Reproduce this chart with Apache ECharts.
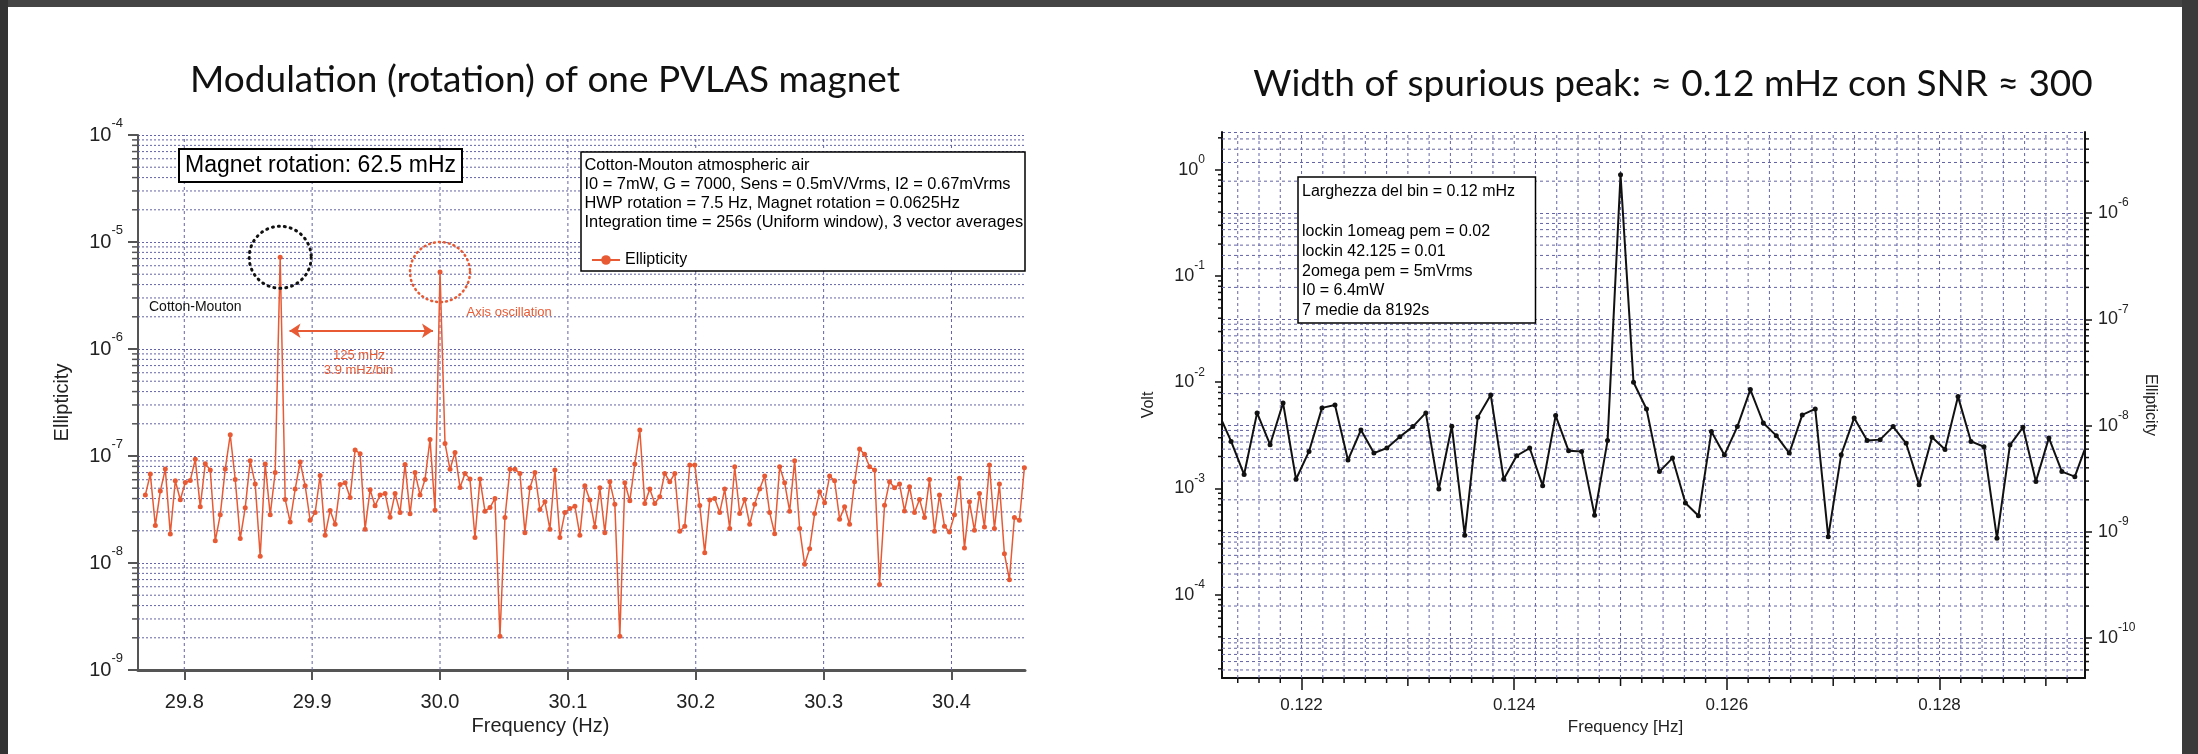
<!DOCTYPE html>
<html>
<head>
<meta charset="utf-8">
<script src="https://cdn.jsdelivr.net/npm/echarts@6/dist/echarts.min.js"></script>
<style>
html,body{margin:0;padding:0;background:#fff;}
#chart{width:2198px;height:754px;}
</style>
</head>
<body>
<div id="chart"></div>
<script>
// ---------------- DATA ----------------
const LEFT_TITLE = 'Modulation (rotation) of one PVLAS magnet';
const RIGHT_TITLE = 'Width of spurious peak: \u2248 0.12 mHz con SNR \u2248 300';

// Left panel: FFT bins, 3.9 mHz/bin (1/256 s), first bin at 29.7695 Hz
const LEFT_F0 = 29.76953125;
const LEFT_DF = 0.00390625;
const LEFT_ELLIPTICITY = [
  4.31e-8, 6.78e-8, 2.24e-8, 4.70e-8, 7.55e-8, 1.87e-8, 5.87e-8, 3.90e-8, 5.66e-8, 5.91e-8,
  9.31e-8, 3.35e-8, 8.48e-8, 7.39e-8, 1.61e-8, 2.82e-8, 7.55e-8, 1.58e-7, 6.04e-8, 1.69e-8,
  3.28e-8, 9.04e-8, 5.46e-8, 1.155e-8, 8.41e-8, 2.82e-8, 7.03e-8, 7.2e-6, 3.93e-8, 2.42e-8,
  4.91e-8, 8.79e-8, 5.27e-8, 2.51e-8, 2.96e-8, 6.59e-8, 1.82e-8, 3.10e-8, 2.30e-8, 5.42e-8,
  5.62e-8, 4.10e-8, 1.14e-7, 1.05e-7, 2.07e-8, 4.83e-8, 3.42e-8, 4.31e-8, 4.47e-8, 2.68e-8,
  4.47e-8, 2.96e-8, 8.35e-8, 2.88e-8, 7.03e-8, 4.31e-8, 6.04e-8, 1.43e-7, 3.12e-8, 5.24e-6,
  1.31e-7, 7.50e-8, 1.08e-7, 5.08e-8, 6.88e-8, 6.08e-8, 1.73e-8, 6.08e-8, 3.05e-8, 3.30e-8,
  4.01e-8, 2.07e-9, 2.66e-8, 7.50e-8, 7.50e-8, 6.88e-8, 1.92e-8, 5.05e-8, 7.03e-8, 3.16e-8,
  3.73e-8, 2.07e-8, 7.39e-8, 1.73e-8, 2.96e-8, 3.23e-8, 3.40e-8, 1.82e-8, 5.27e-8, 3.87e-8,
  2.17e-8, 5.05e-8, 1.92e-8, 5.74e-8, 3.55e-8, 2.07e-9, 5.62e-8, 3.81e-8, 8.41e-8, 1.75e-7,
  3.60e-8, 4.91e-8, 3.60e-8, 4.16e-8, 6.88e-8, 5.74e-8, 6.88e-8, 1.98e-8, 2.21e-8, 8.24e-8,
  8.24e-8, 3.45e-8, 1.25e-8, 3.87e-8, 4.01e-8, 2.96e-8, 4.91e-8, 2.10e-8, 7.94e-8, 2.90e-8,
  3.93e-8, 2.30e-8, 3.55e-8, 4.91e-8, 6.49e-8, 2.96e-8, 1.88e-8, 7.94e-8, 5.62e-8, 3.05e-8,
  9.04e-8, 2.10e-8, 9.72e-9, 1.36e-8, 2.90e-8, 4.64e-8, 3.65e-8, 6.49e-8, 5.87e-8, 2.57e-8,
  3.35e-8, 2.30e-8, 5.74e-8, 1.16e-7, 1.04e-7, 7.94e-8, 7.39e-8, 6.31e-9, 3.47e-8, 5.74e-8,
  5.05e-8, 5.46e-8, 3.07e-8, 5.16e-8, 2.96e-8, 3.93e-8, 2.66e-8, 6.04e-8, 1.98e-8, 4.31e-8,
  2.21e-8, 1.95e-8, 2.82e-8, 6.18e-8, 1.38e-8, 3.73e-8, 2.02e-8, 4.47e-8, 2.17e-8, 8.24e-8,
  2.10e-8, 5.46e-8, 1.22e-8, 6.98e-9, 2.66e-8, 2.51e-8, 7.78e-8
];
const LEFT_XTICKS = [29.8, 29.9, 30.0, 30.1, 30.2, 30.3, 30.4];
const LEFT_XMIN = 29.7638, LEFT_XMAX = 30.4575;
const LEFT_YMIN = 1e-9, LEFT_YMAX = 1e-4;

// Right panel: bins of 1/8192 Hz around 0.125 Hz
const RIGHT_F0 = 0.125 - 31 / 8192;
const RIGHT_DF = 1 / 8192;
const RIGHT_VOLT = [
  5.2e-3, 2.77e-3, 1.35e-3, 5.14e-3, 2.58e-3, 6.38e-3, 1.22e-3, 2.23e-3, 5.73e-3, 6.11e-3,
  1.85e-3, 3.55e-3, 2.15e-3, 2.40e-3, 3.07e-3, 3.82e-3, 5.14e-3, 9.86e-4, 3.85e-3, 3.63e-4,
  4.68e-3, 7.59e-3, 1.22e-3, 2.03e-3, 2.40e-3, 1.06e-3, 4.85e-3, 2.26e-3, 2.23e-3, 5.60e-4,
  2.82e-3, 0.9, 1.0e-2, 5.60e-3, 1.44e-3, 1.93e-3, 7.28e-4, 5.52e-4, 3.43e-3, 2.06e-3,
  3.82e-3, 8.53e-3, 4.13e-3, 3.14e-3, 2.15e-3, 4.92e-3, 5.60e-3, 3.50e-4, 2.08e-3, 4.61e-3,
  2.82e-3, 2.88e-3, 3.82e-3, 2.66e-3, 1.08e-3, 3.03e-3, 2.32e-3, 7.32e-3, 2.77e-3, 2.47e-3,
  3.40e-4, 2.56e-3, 3.76e-3, 1.16e-3, 2.99e-3, 1.44e-3, 1.29e-3, 2.8e-3
];
const RIGHT_XTICKS = [0.122, 0.124, 0.126, 0.128];
const RIGHT_XMIN = 0.121252, RIGHT_XMAX = 0.129368;
const VOLT_MIN = 1.64e-5, VOLT_MAX = 2.27;
const ELL_MIN = 4.2e-11, ELL_MAX = 5.81e-6;

const LEFT_BOX_LINES = [
  'Cotton-Mouton atmospheric air',
  'I0 = 7mW, G = 7000, Sens = 0.5mV/Vrms, I2 = 0.67mVrms',
  'HWP rotation = 7.5 Hz, Magnet rotation = 0.0625Hz',
  'Integration time = 256s (Uniform window), 3 vector averages'
];
const RIGHT_BOX_LINES = [
  'Larghezza del bin = 0.12 mHz',
  '',
  'lockin 1omeag pem = 0.02',
  'lockin 42.125 = 0.01',
  '2omega pem = 5mVrms',
  'I0 = 6.4mW',
  '7 medie da 8192s'
];

// ---------------- STYLE / HELPERS ----------------
const FONT = '"Liberation Sans", Arial, Helvetica, sans-serif';
const RED = '#e85a34';
const GRIDC = '#6464a6';

function minorValues(lo, hi) {
  const out = [];
  for (let d = -12; d <= 1; d++) {
    for (let m = 2; m <= 9; m++) {
      const v = Number((m * Math.pow(10, d)).toPrecision(3));
      if (v > lo && v < hi) out.push(v);
    }
  }
  return out;
}
function stepValues(start, stop, step, dec) {
  const out = [];
  for (let v = start; v <= stop + step / 2; v += step) out.push(Number(v.toFixed(dec)));
  return out;
}
function powLabel(v) {
  const e = Math.round(Math.log10(v));
  return '{b|10}{s|' + e + '}';
}
function powRich(base, sup, lh) {
  return {
    b: { fontSize: base, lineHeight: lh, fontFamily: FONT, color: '#222' },
    s: { fontSize: sup, lineHeight: sup, verticalAlign: 'top', fontFamily: FONT, color: '#222' }
  };
}
// horizontal minor grid lines / ticks on a log axis
function hMinor(xi, yi, xmin, xmax, vals, opt) {
  return {
    type: 'custom', xAxisIndex: xi, yAxisIndex: yi, silent: true, z: 1, clip: false,
    data: vals.map(v => [xmin, v]),
    renderItem: function (params, api) {
      const y = api.value(1);
      const a = api.coord([xmin, y]);
      const b = api.coord([xmax, y]);
      const ch = [];
      if (opt.grid) ch.push({ type: 'line', shape: { x1: a[0], y1: a[1], x2: b[0], y2: b[1] },
        style: { stroke: GRIDC, lineWidth: 1, lineDash: opt.dash } });
      if (opt.tick === 'left') ch.push({ type: 'line', shape: { x1: a[0] - opt.len, y1: a[1], x2: a[0], y2: a[1] },
        style: { stroke: opt.tickColor, lineWidth: 1.5 } });
      if (opt.tick === 'right') ch.push({ type: 'line', shape: { x1: b[0], y1: b[1], x2: b[0] + opt.len, y2: b[1] },
        style: { stroke: opt.tickColor, lineWidth: 1.5 } });
      return { type: 'group', children: ch };
    }
  };
}
// vertical grid lines (+ optional bottom ticks)
function vGrid(xi, yi, ymin, ymax, vals, opt) {
  return {
    type: 'custom', xAxisIndex: xi, yAxisIndex: yi, silent: true, z: 1, clip: false,
    data: vals.map(v => [v, ymin]),
    renderItem: function (params, api) {
      const x = api.value(0);
      const a = api.coord([x, ymin]);
      const b = api.coord([x, ymax]);
      const ch = [{ type: 'line', shape: { x1: a[0], y1: a[1], x2: b[0], y2: b[1] },
        style: { stroke: GRIDC, lineWidth: 1, lineDash: opt.dash } }];
      if (opt.tickLen) {
        const len = opt.tickLen(x);
        ch.push({ type: 'line', shape: { x1: a[0], y1: a[1], x2: a[0], y2: a[1] + len },
          style: { stroke: '#111', lineWidth: 1.5 } });
      }
      return { type: 'group', children: ch };
    }
  };
}

const leftData = LEFT_ELLIPTICITY.map((v, i) => [LEFT_F0 + i * LEFT_DF, v]);
const rightData = RIGHT_VOLT.map((v, i) => [RIGHT_F0 + i * RIGHT_DF, v]);
const rightVGridVals = stepValues(0.1214, 0.1292, 0.0002, 4);

const chart = echarts.init(document.getElementById('chart'), null, { renderer: 'canvas' });

const option = {
  animation: false,
  backgroundColor: '#ffffff',
  legend: {
    data: ['Ellipticity'], left: 586, top: 247, z: 10,
    itemWidth: 28, itemHeight: 12,
    textStyle: { fontSize: 16, fontFamily: FONT, color: '#000' }
  },
  grid: [
    { left: 138, top: 135, width: 887, height: 535 },
    { left: 1222, top: 132, width: 863, height: 546 }
  ],
  xAxis: [
    {
      gridIndex: 0, type: 'value', min: LEFT_XMIN, max: LEFT_XMAX,
      axisLine: { onZero: false, lineStyle: { color: '#555', width: 3 } },
      axisTick: { customValues: LEFT_XTICKS, length: 10, lineStyle: { color: '#555', width: 2 } },
      axisLabel: { customValues: LEFT_XTICKS, formatter: v => Number(v).toFixed(1),
        fontSize: 20, fontFamily: FONT, color: '#222', margin: 22 },
      splitLine: { show: false },
      name: 'Frequency (Hz)', nameLocation: 'middle', nameGap: 44,
      nameTextStyle: { fontSize: 20, fontFamily: FONT, color: '#222', padding: [0, 82, 0, 0] }
    },
    {
      gridIndex: 1, type: 'value', min: RIGHT_XMIN, max: RIGHT_XMAX,
      axisLine: { onZero: false, lineStyle: { color: '#111', width: 2 } },
      axisTick: { customValues: RIGHT_XTICKS, length: 12, lineStyle: { color: '#111', width: 1.5 } },
      axisLabel: { customValues: RIGHT_XTICKS, formatter: v => Number(v).toFixed(3),
        fontSize: 17, fontFamily: FONT, color: '#222', margin: 19 },
      splitLine: { show: false },
      name: 'Frequency [Hz]', nameLocation: 'middle', nameGap: 35,
      nameTextStyle: { fontSize: 17, fontFamily: FONT, color: '#222', padding: [0, 56, 0, 0] }
    }
  ],
  yAxis: [
    {
      gridIndex: 0, type: 'log', logBase: 10, min: LEFT_YMIN, max: LEFT_YMAX,
      axisLine: { show: true, lineStyle: { color: '#555', width: 2 } },
      axisTick: { show: true, length: 10, lineStyle: { color: '#555', width: 2 } },
      axisLabel: { formatter: powLabel, rich: powRich(20, 13, 36), margin: 15 },
      splitLine: { show: true, lineStyle: { color: GRIDC, type: [2, 2], width: 1 } },
      name: 'Ellipticity', nameLocation: 'middle', nameGap: 66,
      nameTextStyle: { fontSize: 20, fontFamily: FONT, color: '#222' }
    },
    {
      gridIndex: 1, type: 'log', logBase: 10, min: VOLT_MIN, max: VOLT_MAX, position: 'left',
      axisLine: { show: true, lineStyle: { color: '#111', width: 2 } },
      axisTick: { show: true, length: 7, lineStyle: { color: '#111', width: 1.5 } },
      axisLabel: { formatter: powLabel, rich: powRich(18, 12, 32), margin: 17,
        showMinLabel: false, showMaxLabel: false },
      splitLine: { show: false },
      name: 'Volt', nameLocation: 'middle', nameGap: 65,
      nameTextStyle: { fontSize: 16, fontFamily: FONT, color: '#222' }
    },
    {
      gridIndex: 1, type: 'log', logBase: 10, min: ELL_MIN, max: ELL_MAX, position: 'right',
      axisLine: { show: true, lineStyle: { color: '#111', width: 2 } },
      axisTick: { show: true, length: 7, lineStyle: { color: '#111', width: 1.5 } },
      axisLabel: { formatter: powLabel, rich: powRich(18, 12, 32), margin: 13,
        showMinLabel: false, showMaxLabel: false },
      splitLine: { show: true, lineStyle: { color: GRIDC, type: [3, 3], width: 1 } },
      name: 'Ellipticity', nameLocation: 'middle', nameGap: 57, nameRotate: -90,
      nameTextStyle: { fontSize: 16, fontFamily: FONT, color: '#222' }
    }
  ],
  series: [
    hMinor(0, 0, LEFT_XMIN, LEFT_XMAX, minorValues(LEFT_YMIN, LEFT_YMAX),
      { grid: true, dash: [2, 2], tick: 'left', len: 6, tickColor: '#555' }),
    vGrid(0, 0, LEFT_YMIN, LEFT_YMAX, LEFT_XTICKS, { dash: [3, 3] }),
    hMinor(1, 1, RIGHT_XMIN, RIGHT_XMAX, minorValues(VOLT_MIN, VOLT_MAX),
      { grid: false, tick: 'left', len: 4, tickColor: '#111' }),
    hMinor(1, 2, RIGHT_XMIN, RIGHT_XMAX, minorValues(ELL_MIN, ELL_MAX),
      { grid: true, dash: [3, 3], tick: 'right', len: 4, tickColor: '#111' }),
    vGrid(1, 2, ELL_MIN, ELL_MAX, rightVGridVals, {
      dash: [3, 3],
      tickLen: x => (Math.abs(x / 0.002 - Math.round(x / 0.002)) < 1e-6 ? 0 :
        (Math.abs(x / 0.001 - Math.round(x / 0.001)) < 1e-6 ? 8 : 5))
    }),
    {
      name: 'Ellipticity', type: 'line', xAxisIndex: 0, yAxisIndex: 0, z: 3,
      data: leftData, showAllSymbol: true, symbol: 'circle', symbolSize: 5,
      itemStyle: { color: RED }, lineStyle: { color: RED, width: 1.5 },
      markPoint: {
        silent: true, label: { show: false },
        data: [
          { coord: [29.875, 7.2e-6], symbol: 'circle', symbolSize: 62,
            itemStyle: { color: 'rgba(0,0,0,0)', borderColor: '#111', borderWidth: 3, borderType: [1, 5], borderCap: 'round' } },
          { coord: [30.0, 5.24e-6], symbol: 'circle', symbolSize: 60,
            itemStyle: { color: 'rgba(0,0,0,0)', borderColor: RED, borderWidth: 2.5, borderType: [1, 4], borderCap: 'round' } }
        ]
      },
      markLine: {
        silent: true, symbol: ['arrow', 'arrow'], symbolSize: 11, label: { show: false },
        lineStyle: { color: RED, width: 2, type: 'solid' },
        data: [[{ coord: [29.8823, 1.48e-6] }, { coord: [29.9945, 1.48e-6] }]]
      }
    },
    {
      name: 'Volt', type: 'line', xAxisIndex: 1, yAxisIndex: 1, z: 3,
      data: rightData, showAllSymbol: true, symbol: 'circle', symbolSize: 5,
      itemStyle: { color: '#111' }, lineStyle: { color: '#111', width: 2 }
    }
  ],
  graphic: [
    // slide frame
    { type: 'rect', shape: { x: 0, y: 0, width: 2198, height: 7 }, style: { fill: '#454545' }, z: 100 },
    { type: 'rect', shape: { x: 0, y: 0, width: 8, height: 754 }, style: { fill: '#333333' }, z: 100 },
    { type: 'rect', shape: { x: 2182, y: 0, width: 16, height: 754 }, style: { fill: '#3a3a3a' }, z: 100 },
    // titles
    { type: 'text', x: 545, y: 80, z: 20, style: { text: LEFT_TITLE, font: '37px Lato, "Open Sans", sans-serif',
      fill: '#111', align: 'center', verticalAlign: 'middle' } },
    { type: 'text', x: 1673, y: 84, z: 20, style: { text: RIGHT_TITLE, font: '37px Lato, "Open Sans", sans-serif',
      fill: '#111', align: 'center', verticalAlign: 'middle' } },
    // left annotations
    { type: 'rect', shape: { x: 179, y: 149, width: 283, height: 33 }, z: 3,
      style: { fill: '#fff', stroke: '#000', lineWidth: 2 } },
    { type: 'text', x: 320.5, y: 166, z: 5, style: { text: 'Magnet rotation: 62.5 mHz', font: '23px ' + FONT,
      fill: '#000', align: 'center', verticalAlign: 'middle' } },
    { type: 'rect', shape: { x: 581, y: 152, width: 444, height: 119 }, z: 3,
      style: { fill: '#fff', stroke: '#000', lineWidth: 1.5 } },
    { type: 'text', x: 584.5, y: 156.6, z: 5, style: { text: LEFT_BOX_LINES.join('\n'), font: '16.4px ' + FONT,
      lineHeight: 18.7, fill: '#000', align: 'left', verticalAlign: 'top' } },
    { type: 'text', x: 149, y: 307, z: 5, style: { text: 'Cotton-Mouton', font: '14px ' + FONT,
      fill: '#111', align: 'left', verticalAlign: 'middle' } },
    { type: 'text', x: 466.5, y: 312, z: 5, style: { text: 'Axis oscillation', font: '13px ' + FONT,
      fill: RED, align: 'left', verticalAlign: 'middle' } },
    { type: 'text', x: 359, y: 355, z: 5, style: { text: '125 mHz', font: '13px ' + FONT,
      fill: RED, align: 'center', verticalAlign: 'middle' } },
    { type: 'text', x: 358.5, y: 370.5, z: 5, style: { text: '3.9 mHz/bin', font: '13px ' + FONT,
      fill: RED, align: 'center', verticalAlign: 'middle' } },
    // right annotation box
    { type: 'rect', shape: { x: 1298, y: 177, width: 237.5, height: 146 }, z: 3,
      style: { fill: '#fff', stroke: '#000', lineWidth: 1.5 } },
    { type: 'text', x: 1302, y: 182.1, z: 5, style: { text: RIGHT_BOX_LINES.join('\n'), font: '16px ' + FONT,
      lineHeight: 19.8, fill: '#000', align: 'left', verticalAlign: 'top' } }
  ]
};

chart.setOption(option);
</script>
</body>
</html>
